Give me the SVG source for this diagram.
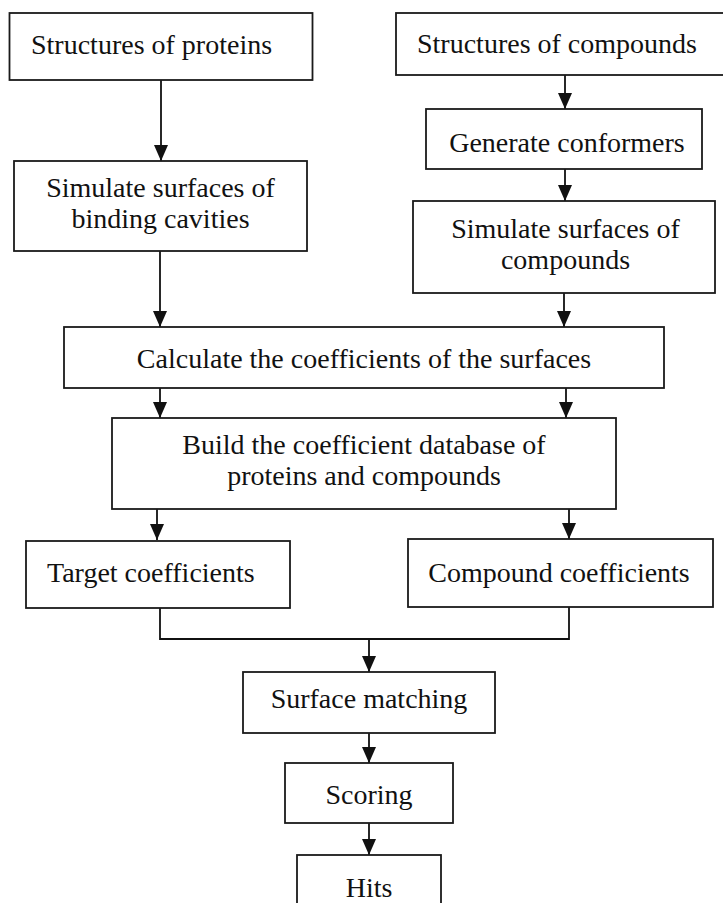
<svg xmlns="http://www.w3.org/2000/svg" width="723" height="903" viewBox="0 0 723 903">
<style>
.box{fill:#fff;stroke:#1a1a1a;stroke-width:1.8}
.t{font-family:"Liberation Serif","Times New Roman",serif;font-size:28px;fill:#111}
.c{text-anchor:middle}
.ln{fill:none;stroke:#111;stroke-width:1.8}
</style>
<defs>
<marker id="ah" markerUnits="userSpaceOnUse" markerWidth="16" markerHeight="14" refX="16" refY="7" orient="auto">
<path d="M0,0 L16,7 L0,14 z" fill="#111"/>
</marker>
</defs>
<rect width="723" height="903" fill="#fff"/>
<g id="connectors">
<line class="ln" x1="161" y1="80" x2="161" y2="161" marker-end="url(#ah)"/>
<line class="ln" x1="565" y1="75" x2="565" y2="109" marker-end="url(#ah)"/>
<line class="ln" x1="565" y1="169" x2="565" y2="201" marker-end="url(#ah)"/>
<line class="ln" x1="160" y1="251" x2="160" y2="327" marker-end="url(#ah)"/>
<line class="ln" x1="564" y1="293" x2="564" y2="327" marker-end="url(#ah)"/>
<line class="ln" x1="160" y1="388" x2="160" y2="418" marker-end="url(#ah)"/>
<line class="ln" x1="566" y1="388" x2="566" y2="418" marker-end="url(#ah)"/>
<line class="ln" x1="157" y1="509" x2="157" y2="540" marker-end="url(#ah)"/>
<line class="ln" x1="569" y1="509" x2="569" y2="539" marker-end="url(#ah)"/>
<polyline class="ln" points="160,608 160,639 569,639 569,607"/>
<line class="ln" x1="369" y1="639" x2="369" y2="672" marker-end="url(#ah)"/>
<line class="ln" x1="369" y1="733" x2="369" y2="763" marker-end="url(#ah)"/>
<line class="ln" x1="369" y1="823" x2="369" y2="855" marker-end="url(#ah)"/>
</g>
<g id="n1"><rect class="box" x="9.5" y="13" width="303" height="67"/><text class="t" x="31" y="54">Structures of proteins</text></g>
<g id="n2"><rect class="box" x="396" y="13" width="335" height="62"/><text class="t" x="417" y="53">Structures of compounds</text></g>
<g id="n3"><rect class="box" x="14" y="161" width="293" height="90"/><text class="t c" x="160.5" y="197">Simulate surfaces of</text><text class="t c" x="160.5" y="228">binding cavities</text></g>
<g id="n4"><rect class="box" x="426" y="109" width="276" height="60"/><text class="t c" x="567" y="152">Generate conformers</text></g>
<g id="n5"><rect class="box" x="413" y="201" width="302" height="92"/><text class="t c" x="565.5" y="238">Simulate surfaces of</text><text class="t c" x="565.5" y="269">compounds</text></g>
<g id="n6"><rect class="box" x="64" y="327" width="600" height="61"/><text class="t c" x="364" y="368">Calculate the coefficients of the surfaces</text></g>
<g id="n7"><rect class="box" x="112" y="418" width="504" height="91"/><text class="t c" x="364" y="454">Build the coefficient database of</text><text class="t c" x="364" y="485">proteins and compounds</text></g>
<g id="n8"><rect class="box" x="26" y="541" width="264" height="67"/><text class="t" x="47" y="582">Target coefficients</text></g>
<g id="n9"><rect class="box" x="408" y="539" width="305" height="68"/><text class="t c" x="559" y="582">Compound coefficients</text></g>
<g id="n10"><rect class="box" x="243" y="672" width="252" height="61"/><text class="t c" x="369" y="708">Surface matching</text></g>
<g id="n11"><rect class="box" x="285" y="763" width="168" height="60"/><text class="t c" x="369" y="804">Scoring</text></g>
<g id="n12"><rect class="box" x="297" y="855" width="144" height="60"/><text class="t c" x="369" y="897">Hits</text></g>
</svg>
